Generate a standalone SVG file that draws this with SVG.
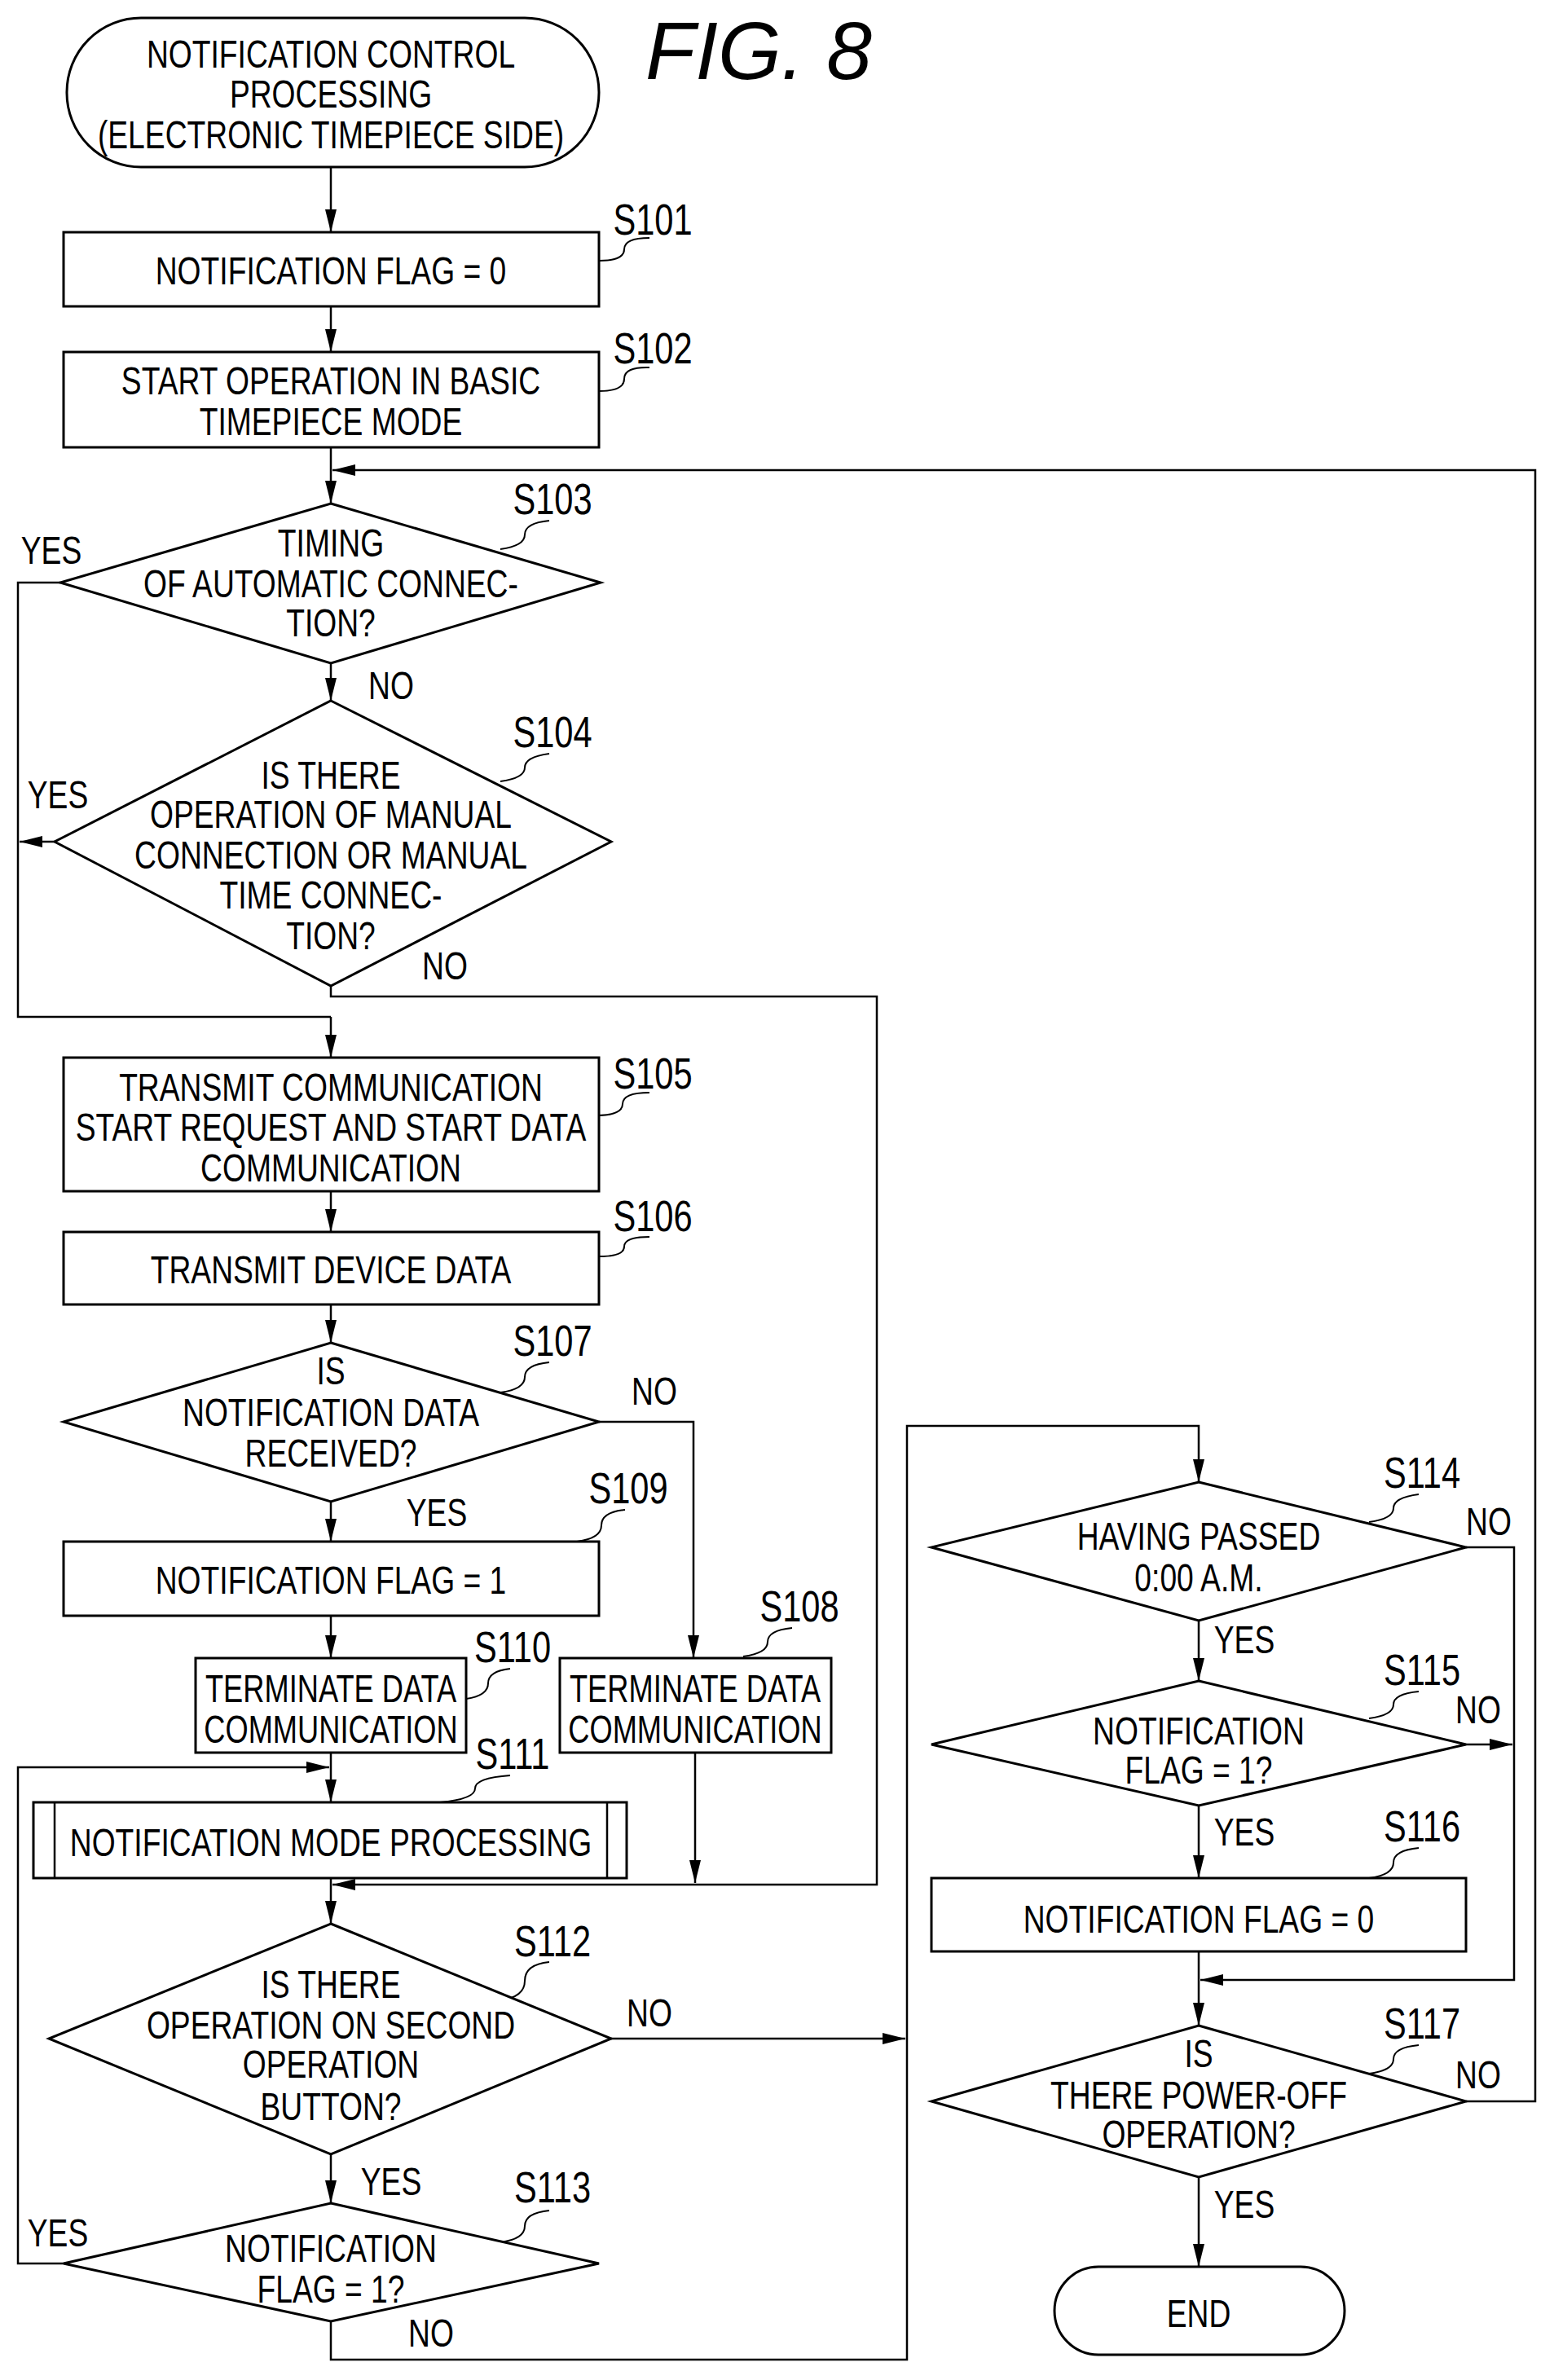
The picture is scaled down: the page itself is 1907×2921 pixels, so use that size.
<svg xmlns="http://www.w3.org/2000/svg" width="1907" height="2921" viewBox="0 0 1907 2921">
<style>
.s{fill:#fff;stroke:#000;stroke-width:3}
.c{fill:none;stroke:#000;stroke-width:2.5}
.l{fill:none;stroke:#000;stroke-width:2}
text{font-family:"Liberation Sans",Arial,sans-serif;font-size:49px;text-anchor:middle}
.n{font-size:54px}
</style>
<defs><marker id="a" markerWidth="28" markerHeight="14" refX="28" refY="7" viewBox="0 0 28 14" orient="auto" markerUnits="userSpaceOnUse"><path d="M0 0L28 7L0 14Z" fill="#000"/></marker></defs>
<rect width="1907" height="2921" fill="#fff"/>
<text style="font-size:100px;font-style:italic" x="931" y="97">FIG. 8</text>
<g id="connectors">
<path class="c" marker-end="url(#a)" d="M406 205V285"/>
<path class="c" marker-end="url(#a)" d="M406 376V432"/>
<path class="c" marker-end="url(#a)" d="M406 549V618"/>
<path class="c" marker-end="url(#a)" d="M1799 2579H1884V577H408"/>
<path class="c" marker-end="url(#a)" d="M406 814V860"/>
<path class="c" d="M74 715H22V1248H406"/>
<path class="c" marker-end="url(#a)" d="M406 1248V1298"/>
<path class="c" marker-end="url(#a)" d="M406 1210V1223H1076V2313H408"/>
<path class="c" marker-end="url(#a)" d="M67 1033H24"/>
<path class="c" marker-end="url(#a)" d="M406 1462V1512"/>
<path class="c" marker-end="url(#a)" d="M406 1601V1648"/>
<path class="c" marker-end="url(#a)" d="M406 1843V1892"/>
<path class="c" marker-end="url(#a)" d="M735 1745H851V2035"/>
<path class="c" marker-end="url(#a)" d="M406 1983V2035"/>
<path class="c" marker-end="url(#a)" d="M406 2151V2212"/>
<path class="c" marker-end="url(#a)" d="M853 2151V2311"/>
<path class="c" marker-end="url(#a)" d="M406 2305V2361"/>
<path class="c" marker-end="url(#a)" d="M406 2644V2704"/>
<path class="c" marker-end="url(#a)" d="M750 2502H1111"/>
<path class="c" marker-end="url(#a)" d="M406 2849V2896H1113V1750H1471V1819"/>
<path class="c" marker-end="url(#a)" d="M78 2778H22V2169H404"/>
<path class="c" marker-end="url(#a)" d="M1471 1989V2063"/>
<path class="c" marker-end="url(#a)" d="M1799 1899H1858V2430H1473"/>
<path class="c" marker-end="url(#a)" d="M1799 2141H1856"/>
<path class="c" marker-end="url(#a)" d="M1471 2216V2305"/>
<path class="c" marker-end="url(#a)" d="M1471 2395V2486"/>
<path class="c" marker-end="url(#a)" d="M1471 2672V2782"/>
</g>
<g id="leaders">
<path class="l" d="M735 320q31 0 31 -14t31 -14"/>
<path class="l" d="M735 480q31 0 31 -15t31 -14"/>
<path class="l" d="M614 674q30 -4 30 -18t30 -17"/>
<path class="l" d="M614 959q30 -4 30 -17t30 -17"/>
<path class="l" d="M730 1369q34 0 34 -14t33 -14"/>
<path class="l" d="M735 1542q31 0 31 -12t31 -12"/>
<path class="l" d="M614 1709q30 -4 30 -19t30 -18"/>
<path class="l" d="M708 1892q30 -4 30 -20t29 -19"/>
<path class="l" d="M912 2033q30 -4 30 -18t30 -17"/>
<path class="l" d="M572 2085q27 -4 27 -19t27 -18"/>
<path class="l" d="M540 2212q43 -4 43 -17t43 -16"/>
<path class="l" d="M614 2455q30 -4 30 -24t30 -23"/>
<path class="l" d="M614 2752q30 -4 30 -20t30 -19"/>
<path class="l" d="M1680 1868q30 -4 30 -17t31 -17"/>
<path class="l" d="M1680 2109q30 -4 30 -17t31 -16"/>
<path class="l" d="M1680 2305q30 -4 30 -19t31 -18"/>
<path class="l" d="M1680 2545q30 -4 30 -18t31 -17"/>
</g>
<g id="start"><rect class="s" x="82" y="22" width="653" height="183" rx="91"/>
<text transform="translate(406,83) scale(.76,1)">NOTIFICATION CONTROL</text>
<text transform="translate(406,132) scale(.76,1)">PROCESSING</text>
<text transform="translate(406,182) scale(.76,1)">(ELECTRONIC TIMEPIECE SIDE)</text></g>
<g id="S101"><rect class="s" x="78" y="285" width="657" height="91"/>
<text transform="translate(406,349) scale(.76,1)">NOTIFICATION FLAG = 0</text>
<text class="n" transform="translate(801,288) scale(.77,1)">S101</text></g>
<g id="S102"><rect class="s" x="78" y="432" width="657" height="117"/>
<text transform="translate(406,484) scale(.76,1)">START OPERATION IN BASIC</text>
<text transform="translate(406,534) scale(.76,1)">TIMEPIECE MODE</text>
<text class="n" transform="translate(801,446) scale(.77,1)">S102</text></g>
<g id="S103"><polygon class="s" points="406,618 737,715 406,814 74,715"/>
<text transform="translate(406,683) scale(.76,1)">TIMING</text>
<text transform="translate(406,733) scale(.76,1)">OF AUTOMATIC CONNEC-</text>
<text transform="translate(406,781) scale(.76,1)">TION?</text>
<text class="n" transform="translate(678,631) scale(.77,1)">S103</text>
<text transform="translate(63,692) scale(.76,1)">YES</text>
<text transform="translate(480,858) scale(.76,1)">NO</text></g>
<g id="S104"><polygon class="s" points="406,860 750,1033 406,1210 67,1033"/>
<text transform="translate(406,968) scale(.76,1)">IS THERE</text>
<text transform="translate(406,1016) scale(.76,1)">OPERATION OF MANUAL</text>
<text transform="translate(406,1066) scale(.76,1)">CONNECTION OR MANUAL</text>
<text transform="translate(406,1115) scale(.76,1)">TIME CONNEC-</text>
<text transform="translate(406,1165) scale(.76,1)">TION?</text>
<text class="n" transform="translate(678,917) scale(.77,1)">S104</text>
<text transform="translate(71,992) scale(.76,1)">YES</text>
<text transform="translate(546,1202) scale(.76,1)">NO</text></g>
<g id="S105"><rect class="s" x="78" y="1298" width="657" height="164"/>
<text transform="translate(406,1351) scale(.76,1)">TRANSMIT COMMUNICATION</text>
<text transform="translate(406,1400) scale(.76,1)">START REQUEST AND START DATA</text>
<text transform="translate(406,1450) scale(.76,1)">COMMUNICATION</text>
<text class="n" transform="translate(801,1336) scale(.77,1)">S105</text></g>
<g id="S106"><rect class="s" x="78" y="1512" width="657" height="89"/>
<text transform="translate(406,1575) scale(.76,1)">TRANSMIT DEVICE DATA</text>
<text class="n" transform="translate(801,1511) scale(.77,1)">S106</text></g>
<g id="S107"><polygon class="s" points="406,1648 735,1745 406,1843 78,1745"/>
<text transform="translate(406,1699) scale(.76,1)">IS</text>
<text transform="translate(406,1750) scale(.76,1)">NOTIFICATION DATA</text>
<text transform="translate(406,1800) scale(.76,1)">RECEIVED?</text>
<text class="n" transform="translate(678,1664) scale(.77,1)">S107</text>
<text transform="translate(803,1724) scale(.76,1)">NO</text>
<text transform="translate(536,1873) scale(.76,1)">YES</text></g>
<g id="S109"><rect class="s" x="78" y="1892" width="657" height="91"/>
<text transform="translate(406,1956) scale(.76,1)">NOTIFICATION FLAG = 1</text>
<text class="n" transform="translate(771,1845) scale(.77,1)">S109</text></g>
<g id="S110"><rect class="s" x="240" y="2035" width="332" height="116"/>
<text transform="translate(406,2089) scale(.74,1)">TERMINATE DATA</text>
<text transform="translate(406,2139) scale(.74,1)">COMMUNICATION</text>
<text class="n" transform="translate(629,2040) scale(.77,1)">S110</text></g>
<g id="S108"><rect class="s" x="687" y="2035" width="333" height="116"/>
<text transform="translate(853,2089) scale(.74,1)">TERMINATE DATA</text>
<text transform="translate(853,2139) scale(.74,1)">COMMUNICATION</text>
<text class="n" transform="translate(981,1990) scale(.77,1)">S108</text></g>
<g id="S111"><rect class="s" x="41" y="2212" width="728" height="93"/>
<path class="c" d="M67 2212V2305M745 2212V2305"/>
<text transform="translate(406,2278) scale(.76,1)">NOTIFICATION MODE PROCESSING</text>
<text class="n" transform="translate(629,2171) scale(.77,1)">S111</text></g>
<g id="S112"><polygon class="s" points="406,2361 750,2502 406,2644 60,2502"/>
<text transform="translate(406,2452) scale(.76,1)">IS THERE</text>
<text transform="translate(406,2502) scale(.76,1)">OPERATION ON SECOND</text>
<text transform="translate(406,2550) scale(.76,1)">OPERATION</text>
<text transform="translate(406,2602) scale(.76,1)">BUTTON?</text>
<text class="n" transform="translate(678,2401) scale(.77,1)">S112</text>
<text transform="translate(797,2487) scale(.76,1)">NO</text>
<text transform="translate(480,2694) scale(.76,1)">YES</text></g>
<g id="S113"><polygon class="s" points="406,2704 735,2778 406,2849 78,2778"/>
<text transform="translate(406,2776) scale(.76,1)">NOTIFICATION</text>
<text transform="translate(406,2826) scale(.76,1)">FLAG = 1?</text>
<text class="n" transform="translate(678,2703) scale(.77,1)">S113</text>
<text transform="translate(71,2757) scale(.76,1)">YES</text>
<text transform="translate(529,2880) scale(.76,1)">NO</text></g>
<g id="S114"><polygon class="s" points="1471,1819 1799,1899 1471,1989 1143,1899"/>
<text transform="translate(1471,1902) scale(.76,1)">HAVING PASSED</text>
<text transform="translate(1471,1953) scale(.76,1)">0:00 A.M.</text>
<text class="n" transform="translate(1745,1826) scale(.77,1)">S114</text>
<text transform="translate(1827,1884) scale(.76,1)">NO</text>
<text transform="translate(1527,2029) scale(.76,1)">YES</text></g>
<g id="S115"><polygon class="s" points="1471,2063 1799,2141 1471,2216 1143,2141"/>
<text transform="translate(1471,2141) scale(.76,1)">NOTIFICATION</text>
<text transform="translate(1471,2189) scale(.76,1)">FLAG = 1?</text>
<text class="n" transform="translate(1745,2068) scale(.77,1)">S115</text>
<text transform="translate(1814,2115) scale(.76,1)">NO</text>
<text transform="translate(1527,2265) scale(.76,1)">YES</text></g>
<g id="S116"><rect class="s" x="1143" y="2305" width="656" height="90"/>
<text transform="translate(1471,2372) scale(.76,1)">NOTIFICATION FLAG = 0</text>
<text class="n" transform="translate(1745,2260) scale(.77,1)">S116</text></g>
<g id="S117"><polygon class="s" points="1471,2486 1799,2579 1471,2672 1143,2579"/>
<text transform="translate(1471,2537) scale(.76,1)">IS</text>
<text transform="translate(1471,2588) scale(.76,1)">THERE POWER-OFF</text>
<text transform="translate(1471,2636) scale(.76,1)">OPERATION?</text>
<text class="n" transform="translate(1745,2502) scale(.77,1)">S117</text>
<text transform="translate(1814,2563) scale(.76,1)">NO</text>
<text transform="translate(1527,2722) scale(.76,1)">YES</text></g>
<g id="end"><rect class="s" x="1294" y="2782" width="356" height="108" rx="54"/>
<text transform="translate(1471,2856) scale(.76,1)">END</text></g>
</svg>
